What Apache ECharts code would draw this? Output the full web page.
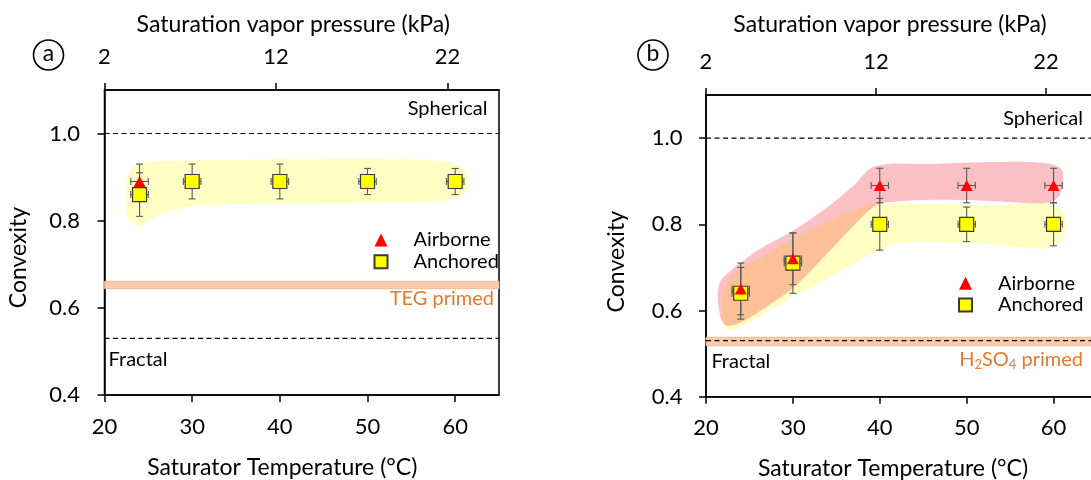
<!DOCTYPE html>
<html>
<head>
<meta charset="utf-8">
<script src="https://cdn.jsdelivr.net/npm/echarts@6/dist/echarts.min.js"></script>
<style>
  html, body { margin: 0; padding: 0; background: #fff; }
  #chart { width: 1091px; height: 480px; }
</style>
</head>
<body>
<div id="chart"></div>
<script>
// Saturator temperatures (°C) and their uncertainty
const temps = [24, 30, 40, 50, 60];
const tempErr = [1, 1, 1, 1, 1];

// Panel a: TEG-primed particles
const aAirborneTemps = [24];
const aAirborne = [0.89];
const aAirborneErr = [0.04];
const aAnchored = [0.86, 0.89, 0.89, 0.89, 0.89];
const aAnchoredErr = [0.05, 0.04, 0.04, 0.03, 0.03];

// Panel b: H2SO4-primed particles
const bAirborne = [0.65, 0.72, 0.89, 0.89, 0.89];
const bAirborneErr = [0.06, 0.06, 0.04, 0.04, 0.04];
const bAnchored = [0.64, 0.71, 0.80, 0.80, 0.80];
const bAnchoredErr = [0.06, 0.07, 0.06, 0.04, 0.05];

// Axis ticks
const tempTicks = [20, 30, 40, 50, 60];
const pressureTicks = [2, 12, 22];
const convexityTicks = [0.4, 0.6, 0.8, 1.0];

// Reference levels
const sphericalLevel = 1.0;
const fractalLevel = 0.53;
const tegBand = [0.644, 0.661];
const h2so4Band = [0.518, 0.538];

// Shaded envelopes around each group (temperature, convexity)
const aAnchoredEnvelope = [
  [22.33, 0.857], [22.56, 0.891], [23.25, 0.923], [25.18, 0.935], [30.88, 0.938],
  [42.27, 0.941], [53.66, 0.941], [58.21, 0.937], [60.49, 0.926], [61.4, 0.896],
  [61.06, 0.864], [59.35, 0.848], [55.93, 0.843], [46.03, 0.840], [34.64, 0.838],
  [29.74, 0.832], [26.89, 0.818], [25.18, 0.802], [24.04, 0.789], [23.02, 0.798],
  [22.45, 0.823]
];
const bAnchoredEnvelope = [
  [22.18, 0.647], [23.33, 0.689], [26.2, 0.721], [29.66, 0.763], [33.1, 0.798],
  [36.55, 0.828], [39.54, 0.847], [45.75, 0.847], [52.64, 0.844], [58.39, 0.848],
  [60.69, 0.837], [61.49, 0.803], [60.92, 0.763], [58.97, 0.744], [52.64, 0.754],
  [46.9, 0.758], [42.3, 0.756], [40.0, 0.74], [36.55, 0.705], [33.1, 0.664],
  [30.0, 0.633], [26.9, 0.596], [23.9, 0.562], [22.5, 0.555], [21.84, 0.582]
];
const bAirborneEnvelope = [
  [21.5, 0.66], [23.0, 0.695], [26.0, 0.74], [30.0, 0.785], [34.0, 0.84],
  [37.0, 0.89], [39.5, 0.935], [46.0, 0.94], [52.0, 0.944], [58.5, 0.943],
  [60.8, 0.93], [61.1, 0.895], [60.5, 0.862], [59.0, 0.849], [54.0, 0.853],
  [48.0, 0.857], [42.0, 0.853], [39.5, 0.843], [36.5, 0.786], [33.0, 0.712],
  [30.0, 0.652], [27.0, 0.609], [24.0, 0.572], [22.3, 0.566], [21.6, 0.59]
];

const FONT = 'Lato, "Open Sans", sans-serif';
const ORANGE = '#E8782C';
const AXIS_COLOR = '#000';
const TICK_FONT = 22;
const TITLE_FONT = 23;

const chart = echarts.init(document.getElementById('chart'), null, { renderer: 'canvas' });

function withErrors(xs, ys, xErr, yErr) {
  return xs.map((x, i) => [x, ys[i], xErr[i], yErr[i]]);
}

function envelopeRenderer(points, fill) {
  return function (params, api) {
    return {
      type: 'polygon',
      shape: { points: points.map(p => api.coord(p)), smooth: 0.35 },
      style: { fill: fill },
      silent: true
    };
  };
}

function bandRenderer(band, xMin, xMax) {
  return function (params, api) {
    const p1 = api.coord([xMin, band[1]]);
    const p2 = api.coord([xMax, band[0]]);
    return {
      type: 'rect',
      shape: { x: p1[0], y: p1[1], width: p2[0] - p1[0], height: p2[1] - p1[1] },
      style: { fill: '#F8CBAD', stroke: '#F0B38C', lineWidth: 0.8 },
      silent: true
    };
  };
}

function errorBarRenderer(params, api) {
  const x = api.value(0), y = api.value(1), dx = api.value(2), dy = api.value(3);
  const top = api.coord([x, y + dy]);
  const bot = api.coord([x, y - dy]);
  const left = api.coord([x - dx, y]);
  const right = api.coord([x + dx, y]);
  const c = 3.5;
  const style = { stroke: '#595959', lineWidth: 1.1, fill: null };
  const seg = (x1, y1, x2, y2) => ({ type: 'line', shape: { x1, y1, x2, y2 }, style });
  return {
    type: 'group',
    children: [
      seg(top[0], top[1], bot[0], bot[1]),
      seg(top[0] - c, top[1], top[0] + c, top[1]),
      seg(bot[0] - c, bot[1], bot[0] + c, bot[1]),
      seg(left[0], left[1], right[0], right[1]),
      seg(left[0], left[1] - c, left[0], left[1] + c),
      seg(right[0], right[1] - c, right[0], right[1] + c)
    ]
  };
}

function tempAxis(gridIndex, shift, gap, margin) {
  return {
    type: 'value', gridIndex, position: 'bottom', min: 20, max: 65,
    axisLine: { show: true, onZero: false, lineStyle: { color: AXIS_COLOR, width: 1.5 } },
    axisTick: { show: true, inside: false, length: 7, customValues: tempTicks, lineStyle: { color: AXIS_COLOR, width: 1.5 } },
    axisLabel: { customValues: tempTicks, margin, fontSize: TICK_FONT, color: '#000', fontFamily: FONT },
    splitLine: { show: false },
    name: 'Saturator Temperature (°C)', nameLocation: 'middle', nameGap: gap, nameMoveOverlap: false,
    nameTextStyle: { fontSize: TITLE_FONT, color: '#000', fontFamily: FONT, padding: [0, shift, 0, 0] }
  };
}

function pressureAxis(gridIndex, shift, gap, margin) {
  return {
    type: 'value', gridIndex, position: 'top', min: 2, max: 25,
    axisLine: { show: true, onZero: false, lineStyle: { color: AXIS_COLOR, width: 1.5 } },
    axisTick: { show: true, inside: false, length: 7, customValues: pressureTicks, lineStyle: { color: AXIS_COLOR, width: 1.5 } },
    axisLabel: { customValues: pressureTicks, margin, fontSize: TICK_FONT, color: '#000', fontFamily: FONT },
    splitLine: { show: false },
    name: 'Saturation vapor pressure (kPa)', nameLocation: 'middle', nameGap: gap, nameMoveOverlap: false,
    nameTextStyle: { fontSize: TITLE_FONT, color: '#000', fontFamily: FONT, padding: [0, shift, 0, 0] }
  };
}

function convexityAxis(gridIndex, margin) {
  return {
    type: 'value', gridIndex, position: 'left', min: 0.4, max: 1.1,
    axisLine: { show: true, onZero: false, lineStyle: { color: AXIS_COLOR, width: 1.5 } },
    axisTick: { show: true, inside: false, length: 7, customValues: convexityTicks, lineStyle: { color: AXIS_COLOR, width: 1.5 } },
    axisLabel: { customValues: convexityTicks, margin, fontSize: TICK_FONT, color: '#000', fontFamily: FONT,
      formatter: v => Number(v).toFixed(1) },
    splitLine: { show: false }
  };
}

function panelSeries(p) {
  const ax = { xAxisIndex: p.xAxisIndex, yAxisIndex: p.yAxisIndex };
  const list = [];
  p.envelopes.forEach((env, i) => list.push(Object.assign({
    type: 'custom', name: 'envelope', silent: true, z: 1 + i,
    renderItem: envelopeRenderer(env.points, env.fill),
    data: [env.points[0]]
  }, ax)));
  list.push(Object.assign({
    type: 'custom', name: 'primed', silent: true, z: 4,
    renderItem: bandRenderer(p.band, 20, 65),
    data: [[20, p.band[0]]]
  }, ax));
  [p.upper, p.lower].forEach(level => list.push(Object.assign({
    type: 'line', name: 'limit', silent: true, z: 5, symbol: 'none',
    lineStyle: { color: '#000', width: 1.1, type: [5, 3.5] },
    data: [[20, level], [65, level]]
  }, ax)));
  list.push(Object.assign({
    type: 'custom', name: 'Anchored error', silent: true, z: 6,
    renderItem: errorBarRenderer, encode: { x: 0, y: 1 },
    data: p.anchoredErr
  }, ax));
  list.push(Object.assign({
    type: 'custom', name: 'Airborne error', silent: true, z: 6,
    renderItem: errorBarRenderer, encode: { x: 0, y: 1 },
    data: p.airborneErr
  }, ax));
  list.push(Object.assign({
    type: 'scatter', name: 'Anchored', z: 7, symbol: 'rect', symbolSize: 14,
    itemStyle: { color: '#FFFF00', borderColor: '#3a3a3a', borderWidth: 1.2, opacity: 1 },
    data: p.anchored
  }, ax));
  list.push(Object.assign({
    type: 'scatter', name: 'Airborne', z: 8, symbol: 'triangle', symbolSize: [12, 11],
    itemStyle: { color: '#FF0000', opacity: 1 },
    data: p.airborne
  }, ax));
  return list;
}

const yellowFill = 'rgb(255,255,196)';
const pinkFill = 'rgba(240,30,40,0.28)';

const seriesA = panelSeries({
  xAxisIndex: 0, yAxisIndex: 0,
  envelopes: [{ points: aAnchoredEnvelope, fill: yellowFill }],
  band: tegBand, upper: sphericalLevel, lower: fractalLevel,
  anchoredErr: withErrors(temps, aAnchored, tempErr, aAnchoredErr),
  airborneErr: withErrors(aAirborneTemps, aAirborne, [1], aAirborneErr),
  anchored: temps.map((t, i) => [t, aAnchored[i]]),
  airborne: aAirborneTemps.map((t, i) => [t, aAirborne[i]])
});

const seriesB = panelSeries({
  xAxisIndex: 2, yAxisIndex: 1,
  envelopes: [
    { points: bAnchoredEnvelope, fill: yellowFill },
    { points: bAirborneEnvelope, fill: pinkFill }
  ],
  band: h2so4Band, upper: sphericalLevel, lower: fractalLevel,
  anchoredErr: withErrors(temps, bAnchored, tempErr, bAnchoredErr),
  airborneErr: withErrors(temps, bAirborne, tempErr, bAirborneErr),
  anchored: temps.map((t, i) => [t, bAnchored[i]]),
  airborne: temps.map((t, i) => [t, bAirborne[i]])
});

function legendAt(left, top, gap) {
  return {
    show: true, orient: 'vertical', left, top, itemGap: gap,
    itemWidth: 13, itemHeight: 13, selectedMode: false,
    data: [{ name: 'Airborne', icon: 'triangle' }, { name: 'Anchored', icon: 'rect' }],
    textStyle: { fontSize: 20, color: '#000', fontFamily: FONT, lineHeight: 20, padding: [0, 0, 0, 21] }
  };
}

function text(x, y, str, opts) {
  return {
    type: 'text', x, y, silent: true, z: 100,
    style: Object.assign({
      text: str, fontSize: 20, fontFamily: FONT, fill: '#000',
      align: 'left', verticalAlign: 'middle'
    }, opts || {})
  };
}

function yTitle(x, y) {
  return {
    type: 'text', x, y, rotation: Math.PI / 2, silent: true, z: 100,
    style: { text: 'Convexity', fontSize: TITLE_FONT, fontFamily: FONT, fill: '#000',
      align: 'center', verticalAlign: 'middle' }
  };
}

function panelTag(cx, cy, letter) {
  return [
    { type: 'circle', silent: true, z: 100, shape: { cx, cy, r: 15 },
      style: { fill: 'none', stroke: '#000', lineWidth: 1.6 } },
    text(cx, cy - 1, letter, { align: 'center', fontSize: 23 })
  ];
}

const option = {
  backgroundColor: '#fff',
  animation: false,
  textStyle: { fontFamily: FONT },
  grid: [
    { left: 104.5, top: 90, width: 394.5, height: 305, show: true, borderColor: '#000', borderWidth: 1.5,
      backgroundColor: 'transparent', outerBoundsMode: 'none' },
    { left: 706, top: 95, width: 391, height: 301.7, show: true, borderColor: '#000', borderWidth: 1.5,
      backgroundColor: 'transparent', outerBoundsMode: 'none' }
  ],
  xAxis: [
    tempAxis(0, 39, 61.5, 21),
    pressureAxis(0, 17, 53.5, 21.7),
    tempAxis(1, 17, 60, 20.6),
    pressureAxis(1, 23, 58.5, 22.3)
  ],
  yAxis: [
    convexityAxis(0, 24.5),
    convexityAxis(1, 23.5)
  ],
  legend: [
    legendAt(368.5, 225, 1.7),
    legendAt(953, 268.3, 1.7)
  ],
  series: seriesA.concat(seriesB),
  graphic: [
    yTitle(19, 257.5),
    yTitle(616.4, 261.7),
    text(487.5, 109, 'Spherical', { align: 'right' }),
    text(108.6, 360, 'Fractal'),
    text(494, 299, 'TEG primed', { align: 'right', fill: ORANGE }),
    text(1083, 119, 'Spherical', { align: 'right' }),
    text(711.4, 361.7, 'Fractal'),
    text(1083, 360, 'H{s|2}SO{s|4} primed', {
      align: 'right', fill: ORANGE,
      rich: { s: { fontSize: 13, fill: ORANGE, fontFamily: FONT, padding: [10, 0, 0, 0] } }
    })
  ].concat(panelTag(48.5, 55, 'a'), panelTag(653, 55, 'b'))
};

chart.setOption(option);
</script>
</body>
</html>
